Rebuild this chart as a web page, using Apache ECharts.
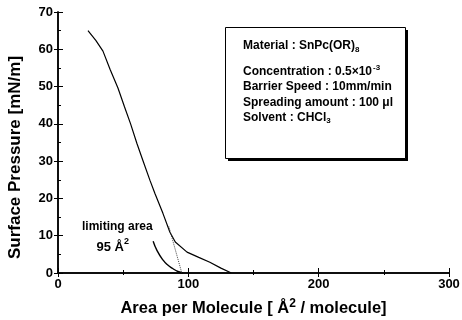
<!DOCTYPE html>
<html>
<head>
<meta charset="utf-8">
<script src="https://cdn.jsdelivr.net/npm/echarts@6/dist/echarts.min.js"></script>
<style>
  html, body { margin: 0; padding: 0; background: #fff; }
  #chart { width: 462px; height: 320px; }
</style>
</head>
<body>
<div id="chart"></div>
<script>
// isotherm
const isoX = [23, 29, 34.5, 40, 46, 51, 55.7, 60.5, 65, 70.5, 74.3, 80.5, 85.8, 90, 99, 108, 116.5, 125, 133];
const isoY = [65, 62.4, 59.5, 54.6, 49.6, 44.6, 40, 34.8, 30.3, 24.9, 21.4, 16, 11, 8.3, 5.6, 4.2, 2.9, 1.3, 0];

// short curve near the limiting area
const lowX = [73, 76, 80.5, 84, 88, 92, 96];
const lowY = [8.5, 6, 3.5, 2.2, 1.2, 0.4, 0];

// extrapolation to the x axis
const tanX = [85, 95];
const tanY = [12.5, 0];

const xTicks = [0, 100, 200, 300];
const yTicks = [0, 10, 20, 30, 40, 50, 60, 70];

const boxTitle = 'Material : SnPc(OR){sub|8}';
const boxLines = [
  'Concentration : 0.5×10{sup|-3}',
  'Barrier Speed : 10mm/min',
  'Spreading amount : 100 μl',
  'Solvent : CHCl{sub|3}'
];

function pairs(xs, ys) {
  return xs.map((x, i) => [x, ys[i]]);
}

const font = 'Liberation Sans, Arial, sans-serif';
const boxRich = {
  sub: { fontSize: 8, fontWeight: 'bold', verticalAlign: 'bottom', padding: [7, 0, 0, 0] },
  sup: { fontSize: 8, fontWeight: 'bold', verticalAlign: 'top', padding: [0, 0, 7, 1] }
};
let myChart = echarts.init(document.getElementById('chart'));

const option = {
  animation: false,
  grid: { left: 58, right: 13, top: 12, bottom: 47, outerBoundsMode: 'none' },
  xAxis: [{
    type: 'value',
    min: xTicks[0],
    max: xTicks[xTicks.length - 1],
    interval: 100,
    name: 'Area per Molecule [ Å{sup|2} / molecule]',
    nameLocation: 'middle',
    nameGap: 25,
    nameTextStyle: {
      color: '#000', fontFamily: font, fontSize: 16.5, fontWeight: 'bold',
      rich: { sup: { fontSize: 12, fontWeight: 'bold', verticalAlign: 'top', padding: [0, 0, 9, 0] } }
    },
    axisLine: { lineStyle: { color: '#000', width: 1.5 } },
    axisTick: { inside: true, length: 5, lineStyle: { color: '#000' } },
    minorTick: { show: true, splitNumber: 2, length: 3, lineStyle: { color: '#000' } },
    splitLine: { show: false },
    axisLabel: { color: '#000', fontFamily: font, fontSize: 13, fontWeight: 'bold', margin: 5 }
  }, {
    type: 'value',
    position: 'top',
    min: 0, max: 300, interval: 100,
    axisLine: { lineStyle: { color: '#000', width: 1.5 } },
    axisTick: { inside: true, length: 4, lineStyle: { color: '#000' } },
    minorTick: { show: true, splitNumber: 2, length: 2, lineStyle: { color: '#000' } },
    axisLabel: { show: false },
    splitLine: { show: false }
  }],
  yAxis: [{
    type: 'value',
    min: yTicks[0],
    max: yTicks[yTicks.length - 1],
    interval: 10,
    name: 'Surface Pressure [mN/m]',
    nameLocation: 'middle',
    nameGap: 34,
    nameTextStyle: { color: '#000', fontFamily: font, fontSize: 17, fontWeight: 'bold', padding: [0, 30, 0, 0] },
    axisLine: { lineStyle: { color: '#000', width: 1.5 } },
    axisTick: { inside: true, length: 5, lineStyle: { color: '#000' } },
    minorTick: { show: true, splitNumber: 2, length: 3, lineStyle: { color: '#000' } },
    splitLine: { show: false },
    axisLabel: { color: '#000', fontFamily: font, fontSize: 13, fontWeight: 'bold', margin: 5 }
  }, {
    type: 'value',
    position: 'right',
    min: 0, max: 70, interval: 10,
    axisLine: { show: true, lineStyle: { color: '#000', width: 1.5 } },
    axisTick: { show: true, inside: true, length: 4, lineStyle: { color: '#000' } },
    axisLabel: { show: false },
    splitLine: { show: false }
  }],
  series: [{
    type: 'line',
    data: pairs(isoX, isoY),
    showSymbol: false,
    lineStyle: { color: '#000', width: 1.2 }
  }, {
    type: 'line',
    data: pairs(lowX, lowY),
    showSymbol: false,
    smooth: true,
    lineStyle: { color: '#000', width: 1.4 }
  }, {
    type: 'line',
    data: pairs(tanX, tanY),
    showSymbol: false,
    lineStyle: { color: '#444', width: 1, type: 'dotted' }
  }],
  graphic: [{
    type: 'rect',
    left: 228, top: 30,
    shape: { width: 180, height: 131 },
    style: { fill: '#000' }
  }, {
    type: 'rect',
    left: 225, top: 27,
    shape: { width: 180, height: 131 },
    style: { fill: '#fff', stroke: '#000', lineWidth: 1 }
  }, {
    type: 'text',
    left: 243, top: 40,
    style: {
      text: boxTitle,
      fill: '#000', fontFamily: font, fontSize: 12, fontWeight: 'bold',
      rich: boxRich
    }
  }, {
    type: 'text',
    left: 243, top: 64,
    style: {
      text: boxLines.join('\n'),
      fill: '#000', fontFamily: font, fontSize: 12, fontWeight: 'bold',
      lineHeight: 15.3,
      rich: boxRich
    }
  }, {
    type: 'text',
    left: 82, top: 217,
    style: {
      text: 'limiting area\n{big|    95 Å}{sup|2}',
      fill: '#000', fontFamily: font, fontSize: 12, fontWeight: 'bold',
      lineHeight: 20,
      rich: {
        big: { fontSize: 13, fontWeight: 'bold', lineHeight: 20 },
        sup: { fontSize: 9, fontWeight: 'bold', verticalAlign: 'top', padding: [0, 0, 6, 0] }
      }
    }
  }]
};

myChart.setOption(option, true);
</script>
</body>
</html>
